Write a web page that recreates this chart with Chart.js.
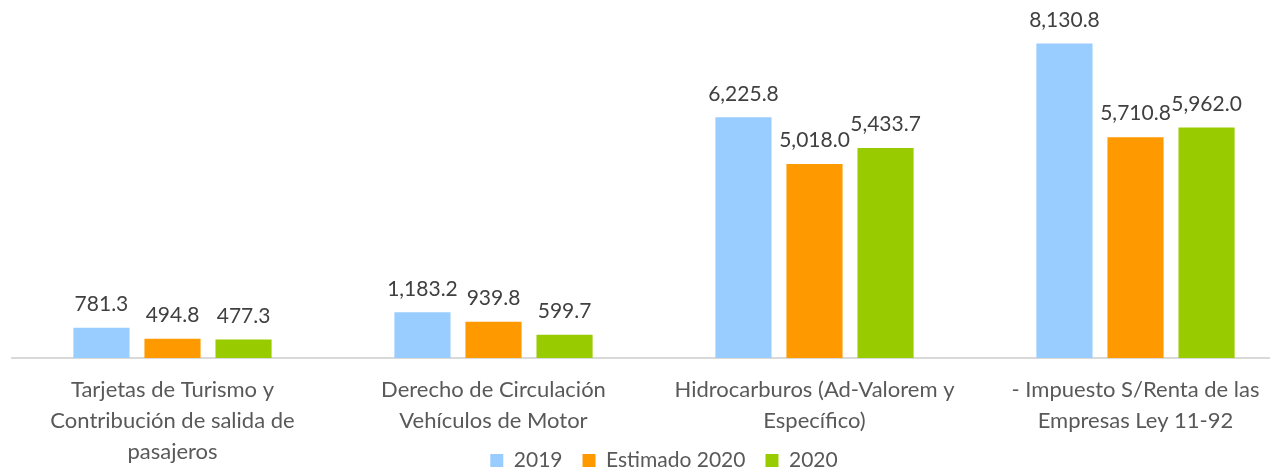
<!DOCTYPE html>
<html>
<head>
<meta charset="utf-8">
<script src="https://cdn.jsdelivr.net/npm/chart.js@4"></script>
<style>
  html, body { margin: 0; padding: 0; background: #fff; overflow: hidden; }
  #wrap { width: 1296px; height: 470px; }
</style>
</head>
<body>
<div id="wrap"><canvas id="chart"></canvas></div>
<script>
const categories = [
    ['Tarjetas de Turismo y', 'Contribución de salida de', 'pasajeros'],
    ['Derecho de Circulación', 'Vehículos de Motor'],
    ['Hidrocarburos (Ad-Valorem y', 'Específico)'],
    ['- Impuesto S/Renta de las', 'Empresas Ley 11-92'],
];
const values2019 = [781.3, 1183.2, 6225.8, 8130.8];
const valuesEstimado2020 = [494.8, 939.8, 5018.0, 5710.8];
const values2020 = [477.3, 599.7, 5433.7, 5962.0];

const FONT = 'Lato, "Open Sans", sans-serif';

// draws the number above each bar
const valueLabels = {
    id: 'valueLabels',
    afterDatasetsDraw(chart) {
        const ctx = chart.ctx;
        ctx.save();
        ctx.font = '21px ' + FONT;
        ctx.fillStyle = '#404040';
        ctx.textAlign = 'center';
        ctx.textBaseline = 'bottom';
        chart.data.datasets.forEach((ds, i) => {
            chart.getDatasetMeta(i).data.forEach((bar, j) => {
                const txt = ds.data[j].toLocaleString('en-US', { minimumFractionDigits: 1, maximumFractionDigits: 1 });
                ctx.fillText(txt, bar.x, bar.y - 13);
            });
        });
        ctx.restore();
    }
};

// let the x labels run down under the legend, like the original,
// and nudge the legend a bit to the right
const layoutTweaks = {
    id: 'layoutTweaks',
    afterLayout(chart) {
        chart.scales.x.bottom = chart.height + 20;
        chart.legend.left += 10;
        chart.legend.right += 10;
    }
};

new Chart(document.getElementById('chart'), {
    type: 'bar',
    data: {
        labels: categories,
        datasets: [
            { label: '2019', data: values2019, backgroundColor: '#99CCFF' },
            { label: 'Estimado 2020', data: valuesEstimado2020, backgroundColor: '#FF9900' },
            { label: '2020', data: values2020, backgroundColor: '#99CC00' },
        ],
    },
    options: {
        responsive: true,
        maintainAspectRatio: false,
        animation: false,
        categoryPercentage: 0.664,
        barPercentage: 0.79,
        layout: { padding: { left: 12, right: 0, top: 10, bottom: -11 } },
        plugins: {
            legend: {
                position: 'bottom',
                labels: {
                    font: { family: FONT, size: 21 },
                    color: '#595959',
                    boxWidth: 13,
                    boxHeight: 13,
                    padding: 20,
                },
            },
            tooltip: { enabled: false },
        },
        scales: {
            x: {
                grid: { display: false },
                border: { color: '#d9d9d9', width: 2 },
                ticks: {
                    font: { family: FONT, size: 22, lineHeight: 1.41 },
                    color: '#595959',
                    maxRotation: 0,
                    autoSkip: false,
                    padding: 8,
                },
                afterFit(scale) { scale.height = 72; },
            },
            y: {
                display: false,
                min: 0,
                max: 9000,
            },
        },
    },
    plugins: [valueLabels, layoutTweaks],
});
</script>
</body>
</html>
